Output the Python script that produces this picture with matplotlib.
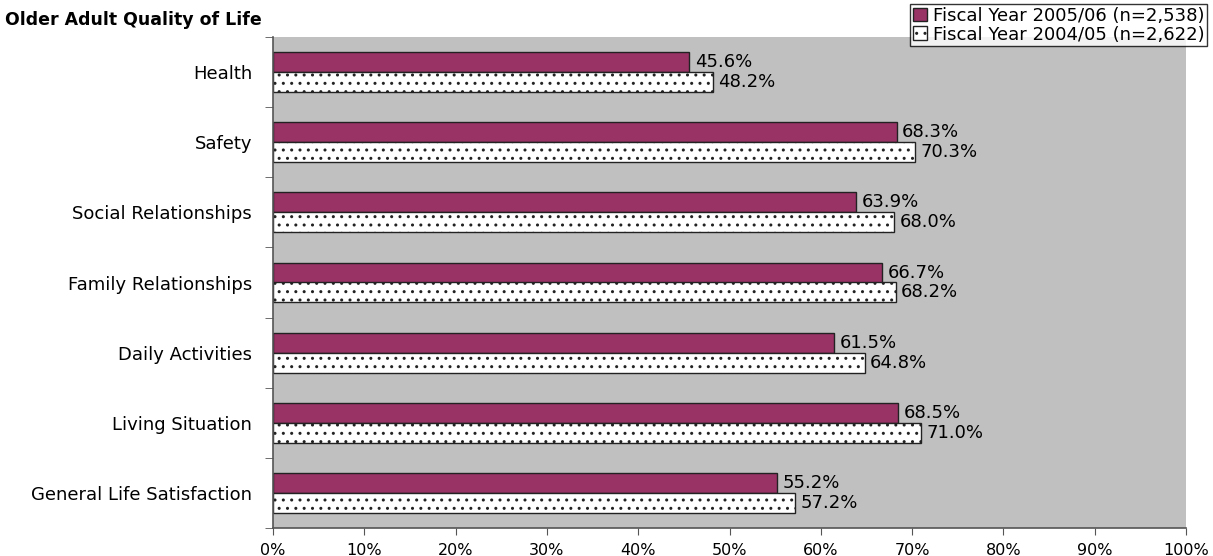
import matplotlib
matplotlib.use("Agg")
import matplotlib.pyplot as plt
import numpy as np

# reference text is wide (Arial stretched), DejaVu is the closer match in width
plt.rcParams['font.family'] = ['DejaVu Sans']
plt.rcParams['hatch.linewidth'] = 1.0
plt.rcParams['hatch.color'] = '#444444'

# Data (top to bottom as shown)
categories = ["Health", "Safety", "Social Relationships", "Family Relationships",
              "Daily Activities", "Living Situation", "General Life Satisfaction"]
fy0506 = [45.6, 68.3, 63.9, 66.7, 61.5, 68.5, 55.2]
fy0405 = [48.2, 70.3, 68.0, 68.2, 64.8, 71.0, 57.2]
series_names = ["Fiscal Year 2005/06 (n=2,538)", "Fiscal Year 2004/05 (n=2,622)"]
xticks = list(range(0, 101, 10))

fig = plt.figure(figsize=(12.13, 5.56), dpi=100)
ax = fig.add_axes([273/1213, 1 - 528/556, (1186 - 273)/1213, (528 - 37)/556])
ax.set_facecolor('#C0C0C0')

n = len(categories)
y = np.arange(n)[::-1].astype(float)  # Health at top
h = 0.285

b1 = ax.barh(y + h/2, fy0506, height=h, color='#993366', edgecolor='#222222', linewidth=1.0,
             label=series_names[0])
b2 = ax.barh(y - h/2, fy0405, height=h, color='white', edgecolor='#222222', linewidth=1.0,
             hatch='..', label=series_names[1])

for bars, vals in ((b1, fy0506), (b2, fy0405)):
    for bar, v in zip(bars, vals):
        ax.text(v + 0.6, bar.get_y() + bar.get_height()/2, f"{v:.1f}%",
                va='center', ha='left', fontsize=13)

ax.set_xlim(0, 100)
ax.set_ylim(-0.5, n - 0.5)
ax.set_xticks(xticks)
ax.set_xticklabels([f"{v}%" for v in xticks], fontsize=11.5)
ax.set_yticks(y)
ax.set_yticklabels(categories, fontsize=13)
ax.tick_params(axis='y', length=0, pad=15)
ax.set_yticks(np.arange(-0.5, n, 1.0), minor=True)
ax.tick_params(axis='y', which='minor', length=6, color='#555555')
ax.tick_params(axis='x', length=5, color='#555555', pad=6)

for s in ('top', 'right'):
    ax.spines[s].set_visible(False)
for s in ('left', 'bottom'):
    ax.spines[s].set_color('#555555')
    ax.spines[s].set_linewidth(1.2)

fig.text(5/1213, 1 - 20/556, "Older Adult Quality of Life", fontsize=12.5, fontweight='bold',
         va='center', ha='left')

leg = fig.legend(handles=[b1, b2], loc='upper right', bbox_to_anchor=(1207/1213, 1 - 4/556),
                 fontsize=13, frameon=True, fancybox=False, edgecolor='black',
                 handlelength=0.8, handleheight=0.8, handletextpad=0.3, borderpad=0.15,
                 labelspacing=0.05, borderaxespad=0)
leg.get_frame().set_linewidth(1.0)

fig.savefig("out.png", dpi=100)
